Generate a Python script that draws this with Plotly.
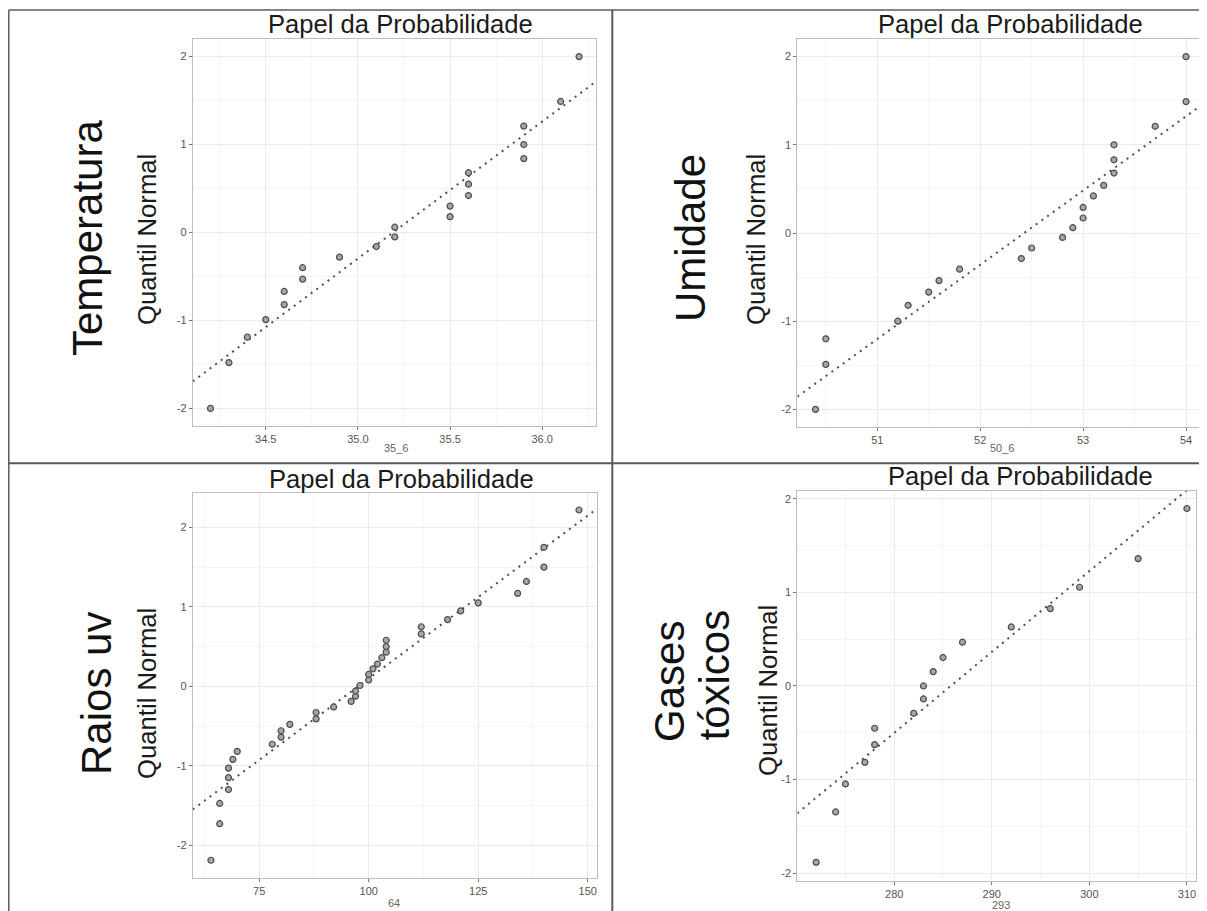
import plotly.graph_objects as go

# page body has an 8px margin: the figure is sized to fill the rest of the window
OFF = 8
W, H = 1207 - OFF, 911 - OFF

# ---------------- data ----------------
temp_x = [34.2, 34.3, 34.4, 34.5, 34.6, 34.6, 34.7, 34.7, 34.9, 35.1, 35.2,
          35.2, 35.5, 35.5, 35.6, 35.6, 35.6, 35.9, 35.9, 35.9, 36.1, 36.2]
temp_q = [-2.0, -1.48, -1.19, -0.99, -0.82, -0.67, -0.53, -0.40, -0.28, -0.16, -0.05,
          0.06, 0.18, 0.30, 0.42, 0.55, 0.68, 0.84, 1.0, 1.21, 1.49, 2.0]
temp_line = (1.558, -54.826)   # slope, intercept

umid_x = [50.4, 50.5, 50.5, 51.2, 51.3, 51.5, 51.6, 51.8, 52.4, 52.5, 52.8,
          52.9, 53.0, 53.0, 53.1, 53.2, 53.3, 53.3, 53.3, 53.7, 54.0, 54.0]
umid_q = [-2.0, -1.49, -1.20, -1.0, -0.82, -0.67, -0.54, -0.41, -0.29, -0.17, -0.05,
          0.06, 0.17, 0.29, 0.42, 0.54, 0.68, 0.83, 1.0, 1.21, 1.49, 2.0]
umid_line = (0.8418, -44.134)

uv_x = [64, 66, 66, 68, 68, 68, 69, 70, 78, 80, 80, 82, 88, 88, 92, 96, 97, 97, 98,
        100, 100, 101, 102, 103, 104, 104, 104, 112, 112, 118, 121, 125, 134, 136,
        140, 140, 148]
uv_q = [-2.19, -1.73, -1.475, -1.30, -1.15, -1.03, -0.92, -0.82, -0.73, -0.64, -0.56,
        -0.48, -0.41, -0.33, -0.26, -0.19, -0.125, -0.06, 0.01, 0.08, 0.15, 0.22,
        0.28, 0.36, 0.43, 0.50, 0.58, 0.66, 0.75, 0.84, 0.95, 1.05, 1.17, 1.32,
        1.50, 1.75, 2.22]
uv_line = (0.04104, -4.007)

gas_x = [272, 274, 275, 277, 278, 278, 282, 283, 283, 284, 285, 287, 292, 296, 299,
         305, 310]
gas_q = [-1.884, -1.346, -1.047, -0.816, -0.627, -0.452, -0.292, -0.139, 0.0, 0.153,
         0.303, 0.467, 0.63, 0.826, 1.054, 1.36, 1.895]
gas_line = (0.08645, -24.708)

panel_titles = ["Papel da Probabilidade"] * 4
row_labels = ["Temperatura", "Umidade", "Raios uv", ["Gases", "tóxicos"]]
x_titles = ["35_6", "50_6", "64", "293"]
y_title = "Quantil Normal"

x_ticks = [[34.5, 35.0, 35.5, 36.0], [51, 52, 53, 54], [75, 100, 125, 150], [280, 290, 300, 310]]
x_ticktext = [["34.5", "35.0", "35.5", "36.0"], ["51", "52", "53", "54"],
              ["75", "100", "125", "150"], ["280", "290", "300", "310"]]
x_minor = [0.25, 0.5, 12.5, 5]
y_ticks = [-2, -1, 0, 1, 2]
y_ticktext = ["-2", "-1", "0", "1", "2"]

x_ranges = [[34.104, 36.293], [50.224, 54.16], [59.86, 152.2], [270.08, 310.95]]
y_ranges = [[-2.2, 2.2], [-2.2, 2.2], [-2.41, 2.43], [-2.08, 2.085]]

# ---------------- layout (pixel boxes in window coordinates) ----------------
boxes = [  # x0, x1, ytop, ybottom
    (192.8, 596.2, 39, 426),
    (797.4, 1202.5, 39, 427),
    (192.8, 597.4, 493.3, 877.7),
    (797.4, 1196.2, 490.7, 880.7),
]

def px(x):
    return (x - OFF) / W

def py(y):
    return 1 - (y - OFF) / H

series = [(temp_x, temp_q, temp_line), (umid_x, umid_q, umid_line),
          (uv_x, uv_q, uv_line), (gas_x, gas_q, gas_line)]

fig = go.Figure()
tick_font = dict(family="Liberation Sans Narrow, Arial Narrow, Liberation Sans, sans-serif",
                 size=11, color="#555555")

for i, (xs, qs, (slope, icpt)) in enumerate(series):
    n = i + 1
    xa = "x" if n == 1 else f"x{n}"
    ya = "y" if n == 1 else f"y{n}"
    xr = x_ranges[i]
    fig.add_trace(go.Scatter(
        x=[xr[0], xr[1]], y=[slope * xr[0] + icpt, slope * xr[1] + icpt],
        mode="lines", line=dict(color="#464696", width=2, dash="2px,5px"),
        xaxis=xa, yaxis=ya, hoverinfo="skip", showlegend=False))
    fig.add_trace(go.Scatter(
        x=xs, y=qs, mode="markers",
        marker=dict(size=6, color="#a6a6a6", line=dict(color="#4d4d4d", width=1.2)),
        xaxis=xa, yaxis=ya, showlegend=False))

    x0, x1, yt, yb = boxes[i]
    axis_common = dict(showline=True, linecolor="#bdbdbd", linewidth=1.2, mirror=True,
                       ticks="outside", ticklen=3, tickcolor="#777777", tickwidth=1,
                       tickfont=tick_font, showgrid=True, gridcolor="#ebebeb",
                       gridwidth=1, zeroline=False)
    xkey = "xaxis" if n == 1 else f"xaxis{n}"
    ykey = "yaxis" if n == 1 else f"yaxis{n}"
    fig.update_layout(**{
        xkey: dict(domain=[px(x0), px(x1)], range=xr, anchor=ya,
                   tickvals=x_ticks[i], ticktext=x_ticktext[i],
                   minor=dict(dtick=x_minor[i], tick0=x_ticks[i][0] - x_minor[i],
                              showgrid=True, gridcolor="#f5f5f5", ticks=""),
                   **axis_common),
        ykey: dict(domain=[py(yb), py(yt)], range=y_ranges[i], anchor=xa,
                   tickvals=y_ticks, ticktext=y_ticktext,
                   minor=dict(dtick=0.5, tick0=-2.5, showgrid=True,
                              gridcolor="#f5f5f5", ticks=""),
                   **axis_common),
    })

# ---------------- annotations ----------------
ann = []
title_pos = [(400, 24), (1010, 24), (401, 479), (1020, 476)]
for (tx, ty), t in zip(title_pos, panel_titles):
    ann.append(dict(x=px(tx), y=py(ty), xref="paper", yref="paper", text=t,
                    showarrow=False, xanchor="center", yanchor="middle",
                    font=dict(family="Liberation Sans, Arial, sans-serif", size=25.6,
                              color="#1a1a1a")))

qn_pos = [(147, 240), (756, 240), (147, 694), (768, 691)]
for (tx, ty) in qn_pos:
    ann.append(dict(x=px(tx), y=py(ty), xref="paper", yref="paper", text=y_title,
                    showarrow=False, textangle=-90, xanchor="center", yanchor="middle",
                    font=dict(family="Liberation Sans, Arial, sans-serif", size=25.7,
                              color="#1a1a1a")))

big_pos = [[(87, 238)], [(690, 238)], [(96, 694)], [(669, 682), (713.5, 675)]]
for pos, lab in zip(big_pos, row_labels):
    labs = lab if isinstance(lab, list) else [lab]
    for (tx, ty), t in zip(pos, labs):
        ann.append(dict(x=px(tx), y=py(ty), xref="paper", yref="paper", text=t,
                        showarrow=False, textangle=-90, xanchor="center", yanchor="middle",
                        font=dict(family="Liberation Sans, Arial, sans-serif", size=42,
                                  color="#111111")))

xt_pos = [(395.5, 448), (1002, 448), (394, 903), (1001, 905)]
for (tx, ty), t in zip(xt_pos, x_titles):
    ann.append(dict(x=px(tx), y=py(ty), xref="paper", yref="paper", text=t,
                    showarrow=False, xanchor="center", yanchor="middle",
                    font=dict(family="Liberation Sans Narrow, Arial Narrow, Liberation Sans, sans-serif",
                              size=11, color="#666666")))

# ---------------- frame lines ----------------
frame = "#5a5a5a"
shapes = [
    dict(type="line", xref="paper", yref="paper", x0=px(8.8), x1=px(1207), y0=py(10), y1=py(10),
         line=dict(color=frame, width=1.5)),
    dict(type="line", xref="paper", yref="paper", x0=px(8.8), x1=px(8.8), y0=py(10), y1=py(911),
         line=dict(color=frame, width=1.5)),
    dict(type="line", xref="paper", yref="paper", x0=px(612.3), x1=px(612.3), y0=py(10), y1=py(911),
         line=dict(color=frame, width=2)),
    dict(type="line", xref="paper", yref="paper", x0=px(8.8), x1=px(1207), y0=py(463.3), y1=py(463.3),
         line=dict(color=frame, width=2)),
]

fig.update_layout(width=W, height=H, margin=dict(l=0, r=0, t=0, b=0),
                  paper_bgcolor="white", plot_bgcolor="white",
                  annotations=ann, shapes=shapes, showlegend=False)

fig.write_html("out.html")
